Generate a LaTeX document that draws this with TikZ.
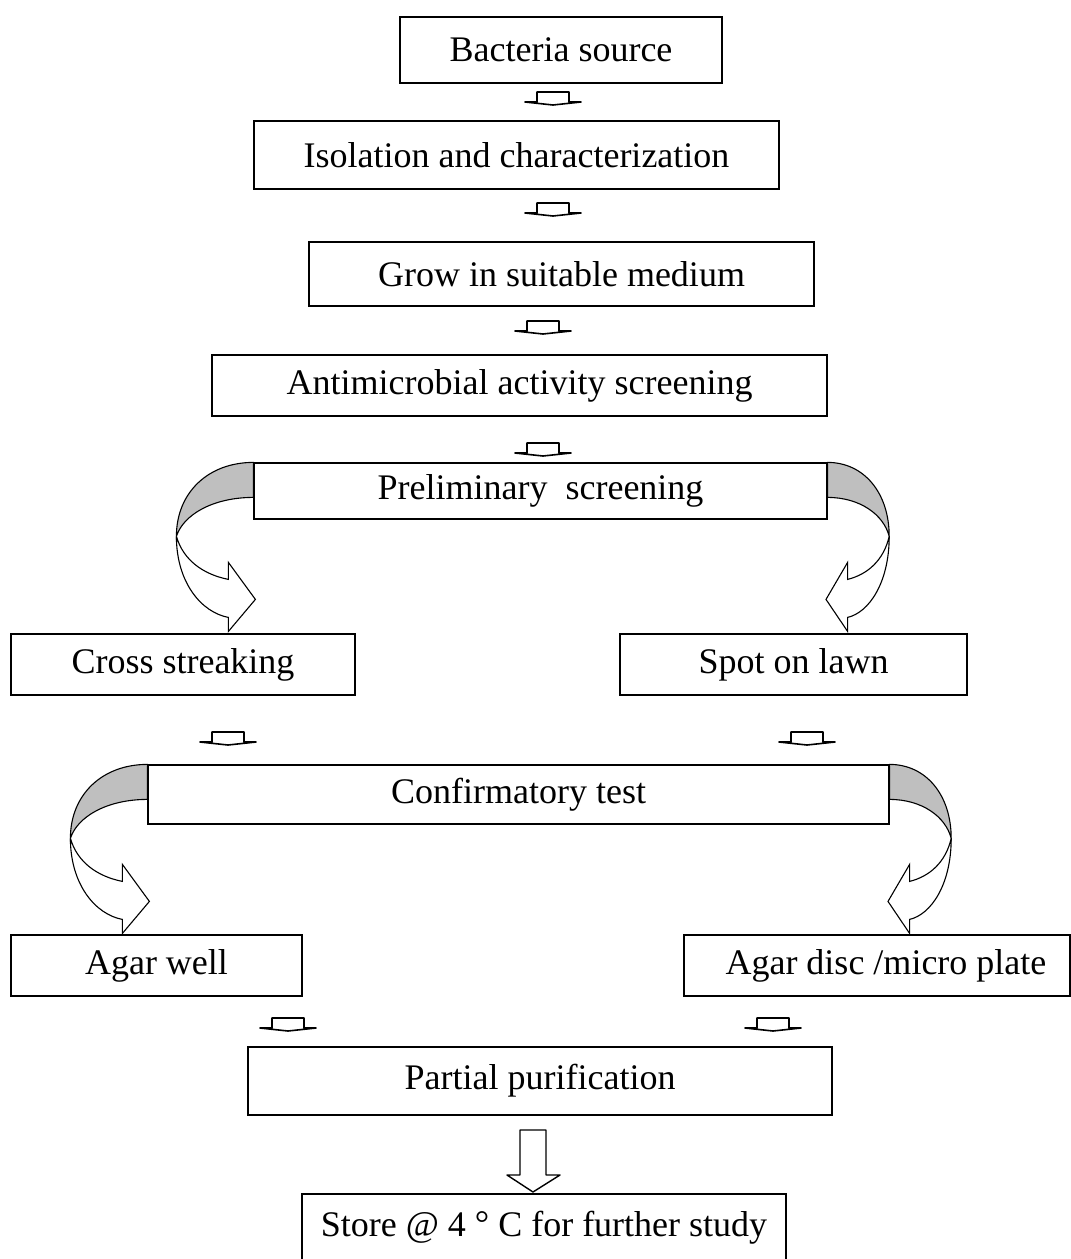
\documentclass[tikz,border=0pt]{standalone}
\usepackage{fontspec}
\setmainfont{Liberation Serif}
\tikzset{
  stepbox/.style={draw, line width=1.2pt, fill=white, inner sep=0pt,
    font=\fontsize{36}{40}\selectfont},
  % flat block arrow between two boxes
  flatarrow/.pic={
    \draw[line width=1.6pt, line join=round] (-16,-10) -- (16,-10) -- (16,0) -- (28,0)
      -- (0,3) -- (-28,0) -- (-16,0) -- cycle;
  },
  % curved arrow leaving the side of a box
  bendarrow/.pic={
    \filldraw[fill=gray!50, line width=1.1pt] (0,0) .. controls (-45,0) and (-77,30) .. (-77,74)
      .. controls (-70,52) and (-40,35) .. (0,35) -- cycle;
    \filldraw[fill=white, line width=1.1pt] (-77,74) .. controls (-77,120) and (-52,150) .. (-25,155)
      -- (-25,169) -- (2,137) -- (-25,100) -- (-25,117)
      .. controls (-50,112) and (-70,98) .. (-77,74);
  }
}
\begin{document}
\begin{tikzpicture}[x=1pt,y=-1pt]
  \useasboundingbox (0,0) rectangle (1071,1259);
  \fill[white] (0,0) rectangle (1071,1259);

  \node[stepbox, minimum width=322, minimum height=66] (src) at (561,50) {Bacteria source};
  \node[stepbox, minimum width=525, minimum height=68] (iso) at (516.5,155) {Isolation and characterization};
  \node[stepbox, minimum width=505, minimum height=64] (grow) at (561.5,274) {Grow in suitable medium};
  \node[stepbox, minimum width=615, minimum height=61] (anti) at (519.5,385.5) {Antimicrobial activity screening};
  \node[stepbox, minimum width=573, minimum height=56] (pre) at (540.5,491) {Preliminary\ \ screening};
  \node[stepbox, minimum width=344, minimum height=61] (cross) at (183,664.5) {Cross streaking};
  \node[stepbox, minimum width=347, minimum height=61] (spot) at (793.5,664.5) {Spot on lawn};
  \node[stepbox, minimum width=741, minimum height=59] (conf) at (518.5,794.5) {Confirmatory test};
  \node[stepbox, minimum width=291, minimum height=61] (well) at (156.5,965.5) {Agar well};
  \node[stepbox, minimum width=386, minimum height=61] (disc) at (877,965.5) {\hspace*{18pt}Agar disc /micro plate};
  \node[stepbox, minimum width=584, minimum height=68] (part) at (540,1081) {Partial purification};
  \node[stepbox, minimum width=484, minimum height=68] (store) at (544,1228) {Store @ 4 \raisebox{0.1ex}{°} C for further study};

  % small arrows
  \pic at (553,102) {flatarrow};
  \pic at (553,213) {flatarrow};
  \pic at (543,331) {flatarrow};
  \pic at (543,453) {flatarrow};
  \pic at (228,742) {flatarrow};
  \pic at (807,742) {flatarrow};
  \pic at (288,1028) {flatarrow};
  \pic at (773,1028) {flatarrow};

  % curved arrows
  \pic at (pre.north west) {bendarrow};
  \pic[xscale=-0.8] at (pre.north east) {bendarrow};
  \pic at (conf.north west) {bendarrow};
  \pic[xscale=-0.8] at (conf.north east) {bendarrow};

  % last arrow
  \draw[line width=1.4pt, line join=round] (520,1130) -- (546,1130) -- (546,1175) -- (560,1175)
    -- (533,1192) -- (507,1175) -- (520,1175) -- cycle;
\end{tikzpicture}
\end{document}
